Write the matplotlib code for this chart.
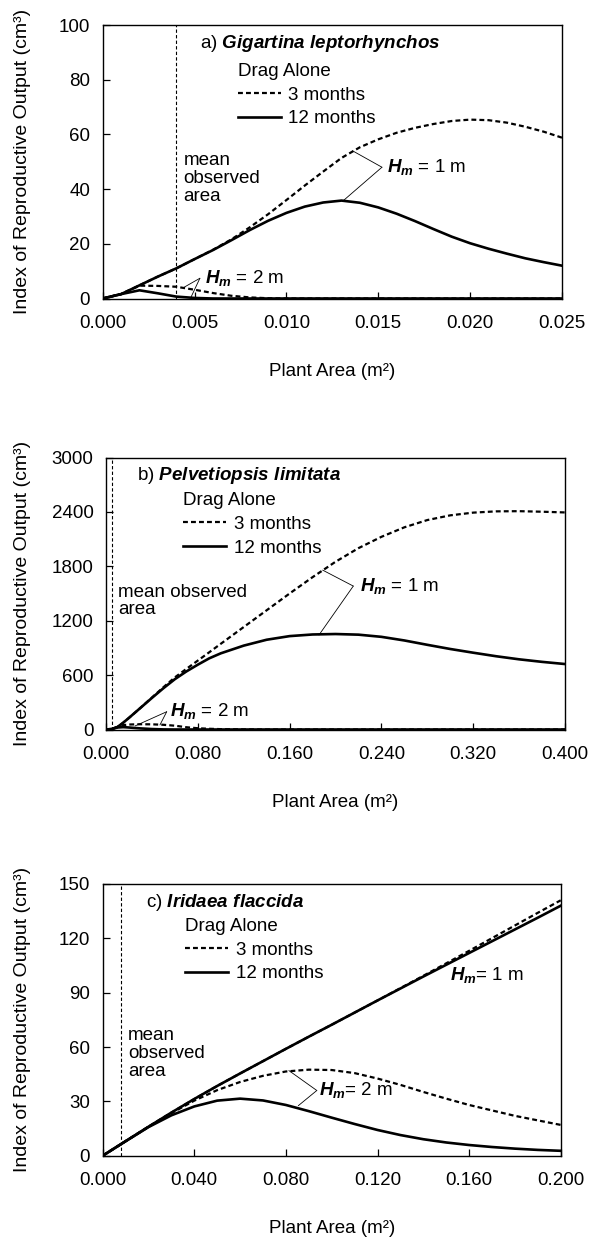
import matplotlib
matplotlib.use("Agg")
import matplotlib.pyplot as plt
from matplotlib.lines import Line2D

plt.rcParams['font.family'] = ['Liberation Sans', 'DejaVu Sans']
plt.rcParams['mathtext.fontset'] = 'custom'
plt.rcParams['mathtext.rm'] = 'Liberation Sans'
plt.rcParams['mathtext.it'] = 'Liberation Sans:italic:bold'
plt.rcParams['mathtext.bf'] = 'Liberation Sans:bold'

# ---------------- data ----------------
# Panel a: Gigartina leptorhynchos
x_a = [0, 0.001, 0.002, 0.003, 0.004, 0.005, 0.006, 0.007, 0.008, 0.009, 0.010,
       0.011, 0.012, 0.013, 0.014, 0.015, 0.016, 0.017, 0.018, 0.019, 0.020,
       0.021, 0.022, 0.023, 0.024, 0.025]
a_12m_h1 = [0, 1.6, 4.8, 8.0, 11.0, 14.4, 17.7, 21.3, 25.0, 28.4, 31.3,
            33.6, 35.1, 35.8, 35.0, 33.3, 31.0, 28.3, 25.4, 22.6, 20.2,
            18.2, 16.4, 14.7, 13.3, 12.0]
a_3m_h1 = [0, 1.6, 4.8, 8.0, 11.0, 14.4, 17.8, 21.6, 26.0, 30.8, 36.0,
           41.3, 46.4, 51.4, 55.3, 58.2, 60.6, 62.4, 63.8, 64.9, 65.4,
           65.2, 64.3, 62.8, 61.0, 58.8]
a_12m_h2 = [0, 1.6, 3.0, 1.9, 0.7, 0.2, 0, 0, 0, 0, 0,
            0, 0, 0, 0, 0, 0, 0, 0, 0, 0, 0, 0, 0, 0, 0]
a_3m_h2 = [0, 1.6, 4.7, 4.6, 4.3, 3.2, 2.0, 1.0, 0.4, 0.1, 0,
           0, 0, 0, 0, 0, 0, 0, 0, 0, 0, 0, 0, 0, 0, 0]

# Panel b: Pelvetiopsis limitata
x_b = [0, 0.005, 0.01, 0.015, 0.02, 0.03, 0.04, 0.05, 0.06, 0.07, 0.08, 0.09,
       0.10, 0.12, 0.14, 0.16, 0.18, 0.20, 0.22, 0.24, 0.26, 0.28, 0.30,
       0.32, 0.34, 0.36, 0.38, 0.40]
b_12m_h1 = [0, 5, 28, 75, 128, 238, 348, 455, 555, 640, 715, 785,
            840, 925, 990, 1030, 1048, 1053, 1046, 1022, 982, 934, 888,
            847, 808, 774, 746, 722]
b_3m_h1 = [0, 5, 28, 75, 128, 238, 352, 466, 575, 668, 760, 852,
           945, 1130, 1315, 1500, 1680, 1850, 2000, 2125, 2230, 2310, 2362,
           2392, 2406, 2408, 2402, 2394]
b_12m_h2 = [0, 5, 22, 26, 22, 12, 5, 1, 0, 0, 0, 0,
            0, 0, 0, 0, 0, 0, 0, 0, 0, 0, 0, 0, 0, 0, 0, 0]
b_3m_h2 = [0, 5, 28, 48, 55, 58, 57, 52, 42, 25, 14, 8,
           4, 1, 0, 0, 0, 0, 0, 0, 0, 0, 0, 0, 0, 0, 0, 0]

# Panel c: Iridaea flaccida
x_c = [0, 0.01, 0.02, 0.03, 0.04, 0.05, 0.06, 0.07, 0.08, 0.09, 0.10,
       0.11, 0.12, 0.13, 0.14, 0.15, 0.16, 0.17, 0.18, 0.19, 0.20]
c_12m_h1 = [0, 8.0, 16.0, 23.8, 31.3, 38.5, 45.4, 52.2, 59.0, 65.7, 72.3,
            79.0, 85.7, 92.3, 98.9, 105.4, 111.9, 118.4, 124.9, 131.4, 138.0]
c_3m_h1 = [0, 8.0, 16.0, 23.8, 31.3, 38.5, 45.4, 52.2, 59.0, 65.7, 72.3,
           79.0, 85.7, 92.5, 99.3, 106.2, 113.1, 120.1, 127.1, 134.1, 141.0]
c_12m_h2 = [0, 8.0, 15.8, 22.3, 27.2, 30.4, 31.5, 30.5, 28.0, 24.6, 21.0,
            17.5, 14.2, 11.4, 9.1, 7.3, 5.9, 4.8, 3.9, 3.2, 2.7]
c_3m_h2 = [0, 8.0, 16.0, 23.5, 30.4, 36.2, 40.7, 44.1, 46.5, 47.5, 47.3,
           45.6, 42.6, 39.1, 35.2, 31.5, 28.0, 25.0, 22.0, 19.5, 17.0]

mean_area = [0.004, 0.005, 0.008]
x_ticks_a = [0.000, 0.005, 0.010, 0.015, 0.020, 0.025]
x_ticks_b = [0.000, 0.080, 0.160, 0.240, 0.320, 0.400]
x_ticks_c = [0.000, 0.040, 0.080, 0.120, 0.160, 0.200]
y_ticks_a = [0, 20, 40, 60, 80, 100]
y_ticks_b = [0, 600, 1200, 1800, 2400, 3000]
y_ticks_c = [0, 30, 60, 90, 120, 150]
titles = ["a) $Gigartina\\ leptorhynchos$",
          "b) $Pelvetiopsis\\ limitata$",
          "c) $Iridaea\\ flaccida$"]
legend_labels = ["3 months", "12 months"]

FS = 13.5
DASH = (2.2, 1.4)
W = 589
H = 1243

fig = plt.figure(figsize=(W / 100, H / 100), dpi=100)


def make_axes(left, top, right, bottom):
    return fig.add_axes([left / W, 1 - bottom / H, (right - left) / W, (bottom - top) / H])


def style(ax, xt, yt, xlim, ylim, left, right):
    ax.set_xlim(*xlim)
    ax.set_ylim(*ylim)
    ax.set_xticks(xt)
    ax.set_xticklabels([f"{v:.3f}" for v in xt])
    ax.set_yticks(yt)
    ax.set_yticklabels([str(v) for v in yt])
    ax.tick_params(direction='in', length=5, width=0.9, labelsize=FS)
    ax.tick_params(axis='x', pad=12)
    ax.tick_params(axis='y', pad=9)
    for s in ax.spines.values():
        s.set_linewidth(1.0)
    ax.set_xlabel("Plant Area (m²)", fontsize=FS, labelpad=22)
    ax.set_ylabel("Index of Reproductive Output (cm³)", fontsize=14)
    ax.yaxis.set_label_coords((31 - left) / (right - left), 0.5)


def curves(ax, x, s1, d1, s2, d2, mean_x):
    ax.axvline(mean_x, color='black', lw=0.8, ls=(0, (3, 2)))
    ax.plot(x, d1, color='black', lw=1.6, ls=(0, DASH))
    ax.plot(x, s1, color='black', lw=1.9)
    ax.plot(x, d2, color='black', lw=1.6, ls=(0, DASH))
    ax.plot(x, s2, color='black', lw=1.9)


def legend(ax, anchor):
    hd = Line2D([], [], color='black', lw=1.6, ls=(0, DASH))
    hs = Line2D([], [], color='black', lw=1.9)
    ax.legend([hd, hs], legend_labels, title="Drag Alone",
              loc='upper left', bbox_to_anchor=anchor, frameon=False,
              fontsize=FS, title_fontsize=FS, handlelength=2.3,
              handletextpad=0.4, labelspacing=0.36, borderpad=0,
              borderaxespad=0, alignment='left')


def callout(ax, junction, targets, label, text_xy):
    for t in targets:
        ax.annotate("", xy=t, xytext=junction,
                    arrowprops=dict(arrowstyle='-', lw=0.6, color='black',
                                    shrinkA=0, shrinkB=0))
    if label:
        ax.text(text_xy[0], text_xy[1], label, fontsize=FS, va='center', ha='left')


# ---------------- panel a ----------------
L, T, R, B = 102.7, 25, 562, 298.5
ax = make_axes(L, T, R, B)
curves(ax, x_a, a_12m_h1, a_3m_h1, a_12m_h2, a_3m_h2, mean_area[0])
style(ax, x_ticks_a, y_ticks_a, (0, 0.025), (0, 100), L, R)
ax.text(0.00527, 93.3, titles[0], fontsize=FS, va='center', ha='left')
legend(ax, (0.294, 0.862))
ax.text(0.0044, 44, "mean\nobserved\narea", fontsize=FS, va='center', ha='left',
        linespacing=1.08)
callout(ax, (0.0152, 48), [(0.0136, 54.0), (0.0131, 35.8)], "$H_m$ = 1 m", (0.0155, 48))
callout(ax, (0.00529, 7.4), [(0.0044, 4.0), (0.0048, 0.4)], "$H_m$ = 2 m", (0.00555, 7.6))

# ---------------- panel b ----------------
L, T, R, B = 106, 457.5, 565, 729.5
ax = make_axes(L, T, R, B)
curves(ax, x_b, b_12m_h1, b_3m_h1, b_12m_h2, b_3m_h2, mean_area[1])
style(ax, x_ticks_b, y_ticks_b, (0, 0.4), (0, 3000), L, R)
ax.text(0.0268, 2806, titles[1], fontsize=FS, va='center', ha='left')
legend(ax, (0.168, 0.873))
ax.text(0.0107, 1417, "mean observed\narea", fontsize=FS, va='center', ha='left',
        linespacing=0.96)
callout(ax, (0.2155, 1582), [(0.1888, 1758), (0.1856, 1042)], "$H_m$ = 1 m", (0.2213, 1582))
callout(ax, (0.0529, 196), [(0.0253, 39), (0.047, 50)], "$H_m$ = 2 m", (0.0560, 205))

# ---------------- panel c ----------------
L, T, R, B = 102.7, 884, 560.7, 1155.7
ax = make_axes(L, T, R, B)
curves(ax, x_c, c_12m_h1, c_3m_h1, c_12m_h2, c_3m_h2, mean_area[2])
style(ax, x_ticks_c, y_ticks_c, (0, 0.2), (0, 150), L, R)
ax.text(0.019, 140, titles[2], fontsize=FS, va='center', ha='left')
legend(ax, (0.18, 0.876))
ax.text(0.011, 56.2, "mean\nobserved\narea", fontsize=FS, va='center', ha='left',
        linespacing=1.08)
ax.text(0.1515, 100, "$H_m$= 1 m", fontsize=FS, va='center', ha='left')
callout(ax, (0.0935, 36), [(0.0813, 47), (0.0854, 27.6)], "$H_m$= 2 m", (0.0945, 36))

fig.savefig("out.png", dpi=100)
